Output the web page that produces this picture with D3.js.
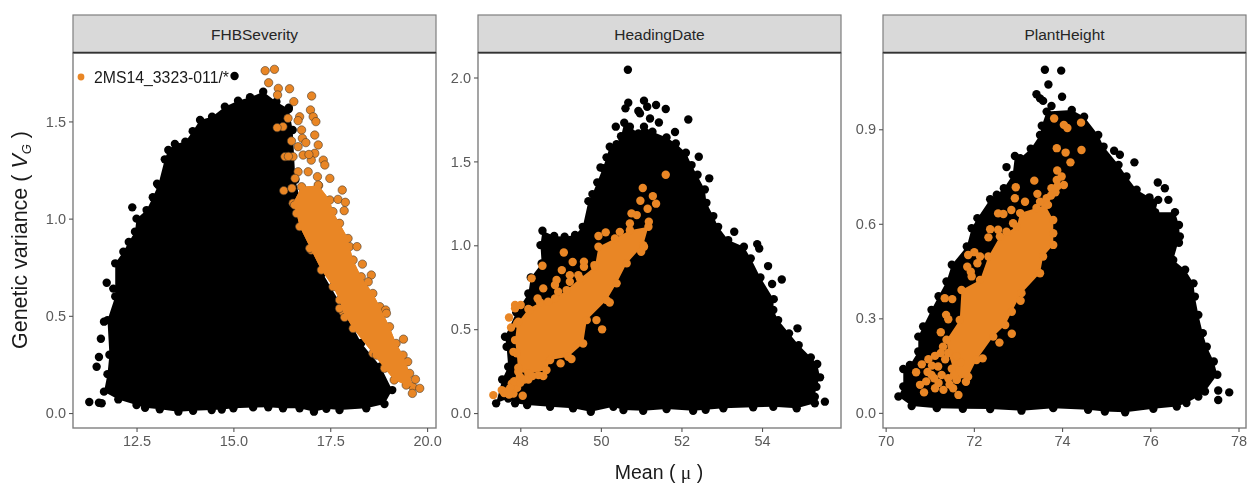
<!DOCTYPE html>
<html>
<head>
<meta charset="utf-8">
<script src="https://cdn.jsdelivr.net/npm/d3@7"></script>
<style>
  html, body { margin: 0; background: #fff; }
  text { font-family: "Liberation Sans", Arial, sans-serif; }
  svg { filter: blur(0.4px); }
</style>
</head>
<body>
<div id="chart"></div>
<script>
// values, [mean, genetic variance]
// *Edge = outline of the solid cloud, *Loose = separate dots around it

const fhbEdge = [[11.66,.11],[11.75,.2],[11.8,.3],[11.75,.478],[11.95,.6],[11.95,.77],[12.16,.83],[12.3,.88],[12.46,.933],[12.5,1.0],[12.76,1.044],[12.92,1.11],[13.06,1.173],[13.23,1.305],[13.32,1.353],[13.49,1.384],[13.76,1.396],[13.95,1.45],[14.14,1.507],[14.45,1.524],[14.78,1.576],[15.12,1.607],[15.43,1.624],[15.77,1.653],[16.11,1.601],[16.43,1.564],[16.53,1.456],[16.6,1.2],[16.9,.95],[17.3,.72],[17.8,.55],[18.3,.36],[18.8,.24],[19.1,.118],[18.9,.046],[18.43,.024],[17.74,.015],[17.4,.022],[17.08,.007],[16.71,.024],[16.28,.024],[15.9,.03],[15.51,.029],[15,.024],[14.7,.018],[14.44,.015],[13.96,.012],[13.58,.007],[13.1,.019],[12.72,.027],[12.5,.041],[12.03,.07]];
const fhbLoose = [[11.28,.057],[11.53,.053],[11.6,.05],[11.47,.238],[11.53,.288],[11.58,.382],[11.66,.47],[11.73,.67],[11.9,.64],[12.39,1.058],[13.03,1.18],[15.03,1.734],[13.58,1.33],[16.43,1.57]];
const fhbBand = [[16.76,1.164],[17.2,1.17],[17.49,1.096],[17.57,1.036],[17.74,.976],[17.96,.898],[18,.856],[18.09,.787],[18.3,.701],[18.6,.615],[18.78,.547],[19.03,.444],[19.2,.358],[19.38,.298],[19.55,.204],[19.63,.135],[19.46,.144],[19.15,.17],[18.9,.23],[18.6,.307],[18.09,.435],[17.83,.521],[17.74,.581],[17.57,.65],[17.27,.736],[17.01,.838],[16.71,.959],[16.63,1.027],[16.54,1.079]];
const fhbOrange = [[15.82,1.761],[16.06,1.768],[15.91,1.699],[16.16,1.67],[16.14,1.636],[16.45,1.668],[16.56,1.602],[17.02,1.631],[16.41,1.516],[16.28,1.473],[16.13,1.468],[16.71,1.524],[16.67,1.504],[16.99,1.559],[17.06,1.524],[17.13,1.499],[17.1,1.43],[16.76,1.456],[16.78,1.413],[16.5,1.399],[16.87,1.391],[16.67,1.37],[17.19,1.379],[17.1,1.336],[17.01,1.301],[17.32,1.301],[17.36,1.276],[16.33,1.319],[16.54,1.319],[16.8,1.327],[16.67,1.241],[16.59,1.207],[16.93,1.241],[17.17,1.216],[17.49,1.207],[17.19,1.173],[16.3,1.144],[16.51,1.156],[17.81,1.147],[17.7,1.099],[17.89,1.084],[17.86,1.041],[16.58,1.07],[18.19,.856],[18.33,.766],[18.56,.71],[18.48,.675],[18.93,.53],[18.95,.513],[19.39,.38],[19.5,.264],[19.7,.173],[19.81,.127],[19.62,.101],[16.97,.847],[17.74,.538],[17.87,.492],[18.69,.298],[16.42,1.32],[16.95,1.33]];

const hdEdge = [[47.4,.058],[47.55,.2],[47.7,.276],[47.66,.395],[47.62,.455],[47.9,.6],[48.2,.713],[48.26,.808],[48.53,.892],[48.5,1.001],[48.55,1.087],[48.84,1.055],[49.1,1.051],[49.36,1.061],[49.55,1.11],[49.69,1.263],[49.79,1.305],[49.91,1.375],[50.05,1.46],[50.14,1.524],[50.22,1.587],[50.39,1.603],[50.5,1.65],[50.58,1.73],[50.72,1.707],[50.93,1.667],[51.07,1.707],[51.28,1.677],[51.63,1.643],[51.86,1.607],[52.11,1.552],[52.25,1.478],[52.58,1.333],[52.62,1.253],[52.79,1.174],[52.91,1.11],[53.16,1.031],[53.55,.991],[53.72,.922],[53.96,.808],[54.29,.679],[54.28,.614],[54.4,.554],[54.67,.475],[54.91,.405],[55.21,.332],[55.37,.292],[55.44,.213],[55.35,.157],[55.31,.097],[55.31,.058],[54.86,.028],[54.28,.038],[53.78,.034],[53.04,.028],[52.6,.02],[52.29,.014],[51.63,.024],[51.05,.014],[50.56,.018],[50.31,.038],[49.75,.008],[49.31,.028],[48.74,.038],[48.17,.048],[47.87,.058],[47.7,.087]];
const hdLoose = [[50.67,2.046],[50.68,1.85],[50.61,1.816],[51.07,1.862],[51.15,1.826],[51.37,1.836],[51.61,1.812],[50.93,1.8],[50.97,1.786],[51.22,1.756],[51.44,1.732],[52.17,1.75],[51.84,1.675],[50.37,1.707],[52.43,1.528],[52.69,1.399],[53.31,1.081],[53.88,1.007],[53.93,.981],[54.15,.876],[54.25,.769],[54.49,.796],[54.88,.505],[55.56,.068],[49.99,1.464],[52.4,1.42]];
const hdBand = [[47.95,.246],[47.91,.356],[47.87,.435],[47.92,.534],[48.2,.62],[48.49,.66],[48.86,.683],[49.15,.733],[49.48,.802],[49.85,.872],[49.94,.991],[50.35,1.041],[50.72,1.09],[51.18,1.11],[51.05,1.0],[50.64,.892],[50.39,.773],[50.14,.673],[49.65,.554],[49.56,.415],[49.19,.335],[48.74,.316],[48.65,.256],[48.2,.236]];
const hdOrange = [[51.61,1.42],[51.04,1.341],[51.29,1.293],[50.98,1.265],[51.37,1.248],[51.16,1.218],[50.76,1.19],[50.89,1.18],[50.72,1.13],[51.19,1.14],[50.12,1.077],[49.94,1.055],[50.47,1.08],[49.08,.957],[49.3,.9],[49.58,.902],[49.58,.872],[49.84,.882],[48.55,.878],[49.03,.852],[48.9,.793],[48.28,.803],[49.44,.822],[49.23,.822],[49.23,.783],[48.86,.763],[48.57,.743],[48.94,.723],[48.43,.683],[48.69,.664],[48.01,.644],[47.87,.624],[47.72,.57],[47.77,.51],[47.95,.544],[48.24,.614],[50.22,.659],[50.03,.499],[49.89,.554],[47.83,.365],[47.87,.644],[47.33,.107],[47.54,.137],[47.83,.117],[48.06,.103],[47.79,.177],[47.99,.217],[48.57,.22],[48.45,.226],[49.27,.322],[49,.296],[51,.961],[51.07,.991],[47.68,.13],[47.92,.15],[47.6,.12],[47.72,.11],[47.75,.15],[47.85,.19],[48,.18],[48.1,.2],[48.2,.2],[48.3,.22],[47.95,.27]];

const phEdge = [[70.29,.052],[70.4,.084],[70.4,.139],[70.55,.152],[70.74,.195],[70.74,.242],[70.85,.274],[71.04,.327],[71.2,.37],[71.38,.417],[71.5,.47],[71.84,.528],[71.95,.586],[72.08,.618],[72.37,.678],[72.52,.692],[72.68,.713],[72.88,.755],[72.93,.815],[73.05,.808],[73.29,.838],[73.5,.882],[73.54,.911],[73.65,.956],[74.22,.961],[74.5,.94],[74.82,.882],[74.94,.845],[75.28,.787],[75.46,.75],[75.69,.708],[75.98,.684],[76.18,.676],[76.11,.637],[76.56,.637],[76.65,.596],[76.67,.56],[76.52,.485],[76.79,.454],[76.98,.411],[77.01,.369],[77.09,.311],[77.19,.253],[77.28,.21],[77.44,.163],[77.52,.121],[77.24,.068],[77.09,.052],[76.82,.031],[76.6,.02],[76.07,.013],[75.43,.002],[74.97,.004],[74.59,.01],[73.8,.015],[73.08,.007],[72.37,.012],[71.75,.013],[71.16,.015],[70.59,.022]];
const phLoose = [[73.61,1.089],[73.98,1.086],[73.69,1.042],[74,1.003],[73.42,1.011],[73.5,.998],[73.57,.99],[73.76,.974],[72.74,.78],[75.18,.832],[75.31,.819],[75.64,.795],[76.17,.731],[76.33,.713],[76.41,.676],[76.65,.54],[77.54,.071],[77.54,.041],[77.79,.065]];
const phBand = [[72.59,.56],[72.97,.591],[73.05,.634],[73.42,.65],[73.62,.66],[73.8,.612],[73.8,.57],[73.8,.533],[73.57,.496],[73.5,.443],[73.08,.38],[72.86,.321],[72.71,.279],[72.44,.242],[72.06,.168],[71.87,.115],[71.61,.105],[71.42,.19],[71.38,.232],[71.68,.295],[71.72,.39],[72.14,.422],[72.33,.496]];
const phOrange = [[73.82,.934],[74.04,.914],[74.12,.904],[74.43,.921],[73.88,.84],[74.08,.826],[74.44,.834],[74.19,.795],[73.89,.769],[73.37,.737],[73.99,.75],[72.95,.716],[72.93,.681],[72.85,.644],[72.55,.633],[72.67,.631],[73.16,.67],[73.44,.695],[73.5,.67],[73.65,.681],[72.89,.602],[72.37,.583],[72.55,.581],[72.74,.575],[72.33,.557],[73.88,.739],[74.04,.723],[73.76,.713],[71.87,.501],[72.01,.51],[72.14,.496],[72.08,.475],[71.85,.464],[71.93,.448],[71.95,.433],[71.34,.364],[71.51,.361],[71.37,.311],[71.42,.297],[71.25,.256],[73.06,.356],[72.86,.251],[72.58,.223],[72.2,.173],[70.82,.154],[70.69,.129],[70.97,.17],[71.12,.181],[70.78,.089],[70.87,.065],[71.04,.12],[71.12,.078],[71.31,.073],[71.53,.078],[71.65,.057],[71.82,.099],[71.19,.147],[71.61,.105],[71.27,.12],[71.5,.14],[71.35,.17],[70.92,.1],[71.2,.095],[71.45,.09],[71.7,.16],[73.9,.72],[73.85,.7],[73.75,.69],[73.68,.66],[71.05,.15],[70.95,.13],[71.55,.12],[71.42,.11],[71.1,.11],[71.6,.18],[71.3,.21],[71.25,.19]];

const fhbXTicks = [12.5, 15, 17.5, 20];
const fhbYTicks = [0, 0.5, 1, 1.5];
const hdXTicks = [48, 50, 52, 54];
const hdYTicks = [0, 0.5, 1, 1.5, 2];
const phXTicks = [70, 72, 74, 76, 78];
const phYTicks = [0, 0.3, 0.6, 0.9];

const legendLabel = '2MS14_3323-011/*';
const orange = '#e98625';

const panels = [
  { name: 'FHBSeverity', left: 73, xd: [10.86, 20.23], yd: [-0.077, 1.852], xt: fhbXTicks, yt: fhbYTicks, xf: '.1f', yf: '.1f', edge: fhbEdge, loose: fhbLoose, band: fhbBand, dots: fhbOrange, ring: true },
  { name: 'HeadingDate', left: 478, xd: [46.95, 55.96], yd: [-0.089, 2.146], xt: hdXTicks, yt: hdYTicks, xf: 'd', yf: '.1f', edge: hdEdge, loose: hdLoose, band: hdBand, dots: hdOrange, ring: false },
  { name: 'PlantHeight', left: 883, xd: [69.94, 78.17], yd: [-0.048, 1.142], xt: phXTicks, yt: phYTicks, xf: 'd', yf: '.1f', edge: phEdge, loose: phLoose, band: phBand, dots: phOrange, ring: false }
];

const panelW = 363, stripTop = 15, plotTop = 53, plotBottom = 428;
const dotR = 4.2;

const svg = d3.select('#chart').append('svg')
  .attr('width', 1248)
  .attr('height', 483)
  .style('display', 'block');

panels.forEach(p => {
  const x = d3.scaleLinear().domain(p.xd).range([p.left, p.left + panelW]);
  const y = d3.scaleLinear().domain(p.yd).range([plotBottom, plotTop]);
  const line = d3.line().x(d => x(d[0])).y(d => y(d[1])).curve(d3.curveLinearClosed);
  const g = svg.append('g');

  // strip
  g.append('rect')
    .attr('x', p.left).attr('y', stripTop)
    .attr('width', panelW).attr('height', plotTop - stripTop)
    .attr('fill', '#d9d9d9').attr('stroke', '#7f7f7f').attr('stroke-width', 1.2);
  g.append('text')
    .attr('x', p.left + panelW / 2).attr('y', 39.5)
    .attr('text-anchor', 'middle')
    .attr('font-size', 15.5).attr('fill', '#262626')
    .text(p.name);

  // black cloud
  g.append('path').attr('d', line(p.edge)).attr('fill', '#000');
  g.append('g').selectAll('circle').data(p.edge.concat(p.loose)).join('circle')
    .attr('cx', d => x(d[0])).attr('cy', d => y(d[1])).attr('r', dotR).attr('fill', '#000');

  // orange family on top
  g.append('path').attr('d', line(p.band)).attr('fill', orange);
  g.append('g').selectAll('circle').data(p.band.concat(p.dots)).join('circle')
    .attr('cx', d => x(d[0])).attr('cy', d => y(d[1])).attr('r', dotR)
    .attr('fill', orange)
    .attr('stroke', p.ring ? '#4a3a2a' : 'none')
    .attr('stroke-width', p.ring ? 0.6 : 0);
  if (p.ring) {
    // hides the dot rings inside the solid band
    g.append('path').attr('d', line(p.band)).attr('fill', orange);
  }

  // panel border
  g.append('rect')
    .attr('x', p.left).attr('y', plotTop)
    .attr('width', panelW).attr('height', plotBottom - plotTop)
    .attr('fill', 'none').attr('stroke', '#7f7f7f').attr('stroke-width', 1.4);
  g.append('line')
    .attr('x1', p.left).attr('x2', p.left + panelW)
    .attr('y1', plotTop - 0.5).attr('y2', plotTop - 0.5)
    .attr('stroke', '#333').attr('stroke-width', 1.6);

  // axes
  const xAxis = g.append('g')
    .attr('transform', `translate(0,${plotBottom})`)
    .call(d3.axisBottom(x).tickValues(p.xt).tickFormat(d3.format(p.xf)).tickSize(4).tickPadding(4));
  const yAxis = g.append('g')
    .attr('transform', `translate(${p.left},0)`)
    .call(d3.axisLeft(y).tickValues(p.yt).tickFormat(d3.format(p.yf)).tickSize(4).tickPadding(3));
  [xAxis, yAxis].forEach(a => {
    a.select('.domain').remove();
    a.selectAll('line').attr('stroke', '#555').attr('stroke-width', 1.1);
    a.selectAll('text').attr('fill', '#5a5a5a').attr('font-size', 14.5)
      .style('font-family', '"Liberation Sans", Arial, sans-serif');
  });
});

// legend
svg.append('circle').attr('cx', 81).attr('cy', 77).attr('r', 3.4).attr('fill', orange);
svg.append('text').attr('x', 94).attr('y', 83)
  .attr('font-size', 15.8).attr('fill', '#1a1a1a').text(legendLabel);

// axis titles
const yTitle = svg.append('text')
  .attr('transform', 'translate(27,240) rotate(-90)')
  .attr('text-anchor', 'middle')
  .attr('font-size', 21.5).attr('fill', '#1a1a1a');
yTitle.append('tspan').text('Genetic variance ( ');
yTitle.append('tspan').attr('font-style', 'italic').text('V');
yTitle.append('tspan').attr('font-style', 'italic').attr('font-size', 13).attr('dy', 4).text('G');
yTitle.append('tspan').attr('dy', -4).text(' )');

const xTitle = svg.append('text')
  .attr('x', 659).attr('y', 479)
  .attr('text-anchor', 'middle')
  .attr('font-size', 19.5).attr('fill', '#1a1a1a');
xTitle.append('tspan').text('Mean ( ');
xTitle.append('tspan').style('font-family', '"Liberation Serif", serif').text('μ');
xTitle.append('tspan').text(' )');
</script>
</body>
</html>
